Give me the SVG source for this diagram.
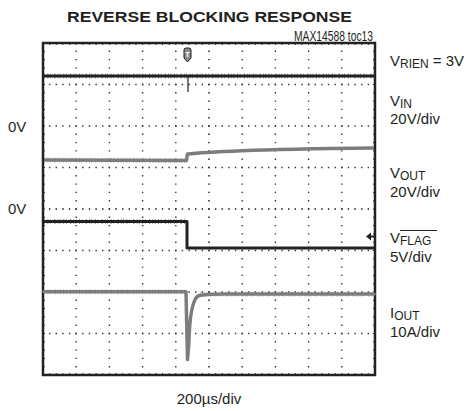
<svg xmlns="http://www.w3.org/2000/svg" width="469" height="411" viewBox="0 0 469 411">
<style>
.lbl{font-family:"Liberation Sans",Arial,sans-serif;font-size:15px;fill:#231f20}
.sub{font-size:12px}
.dh{stroke:#333;stroke-width:1.4;stroke-dasharray:1.4 5.24;stroke-dashoffset:0.7;fill:none}
.dv{stroke:#333;stroke-width:1.4;stroke-dasharray:1.4 6.9;stroke-dashoffset:0.7;fill:none}
.tkh{stroke:#333;stroke-width:1;stroke-dasharray:1 5.64;stroke-dashoffset:0.5;fill:none}
.tkv{stroke:#333;stroke-width:1;stroke-dasharray:1 7.3;stroke-dashoffset:0.5;fill:none}
.dark{fill:none;stroke:#222;stroke-width:3;stroke-linejoin:round}
.gray{fill:none;stroke:#7d7d7d;stroke-width:3.5;stroke-linejoin:round}
.fuzz{fill:none;stroke-width:5;stroke-dasharray:0.8 2.6 1 1.8 0.6 3.4 1.2 2.2 0.7 1.5;opacity:0.55}
</style>
<rect width="469" height="411" fill="#fff"/>
<text class="lbl" x="209.5" y="22" text-anchor="middle" font-weight="bold" font-size="20.5" textLength="285" lengthAdjust="spacingAndGlyphs">REVERSE BLOCKING RESPONSE</text>
<text class="lbl" x="373" y="40.5" text-anchor="end" font-size="10" textLength="79" lengthAdjust="spacingAndGlyphs">MAX14588 toc13</text>
<g id="grid">
<path class="dh" d="M43,84.5H375M43,126H375M43,167.5H375M43,250.5H375M43,292H375M43,333.5H375M43,209H375"/>
<path class="dv" d="M76.2,43V375M109.4,43V375M142.6,43V375M175.8,43V375M242.2,43V375M275.4,43V375M308.6,43V375M341.8,43V375M209,43V375"/>
<path class="tkh" stroke-width="4" d="M43,209H375"/>
<path class="tkv" stroke-width="5" d="M209,43V375"/>
<path class="tkh" stroke-width="3.5" d="M43,44.5H375M43,373.5H375"/>
<path class="tkv" stroke-width="3.5" d="M44.5,43V375M373.5,43V375"/>
<rect x="43" y="43" width="332" height="332" fill="none" stroke="#222" stroke-width="2.5"/>
</g>
<g id="traces">
<g id="vrien">
<path class="dark" d="M44,76H374"/>
<path class="fuzz" stroke="#222" d="M44,76H374"/>
<path d="M188,76V92" stroke="#222" stroke-width="1.2"/>
</g>
<g id="vin">
<path class="gray" d="M44,160L186.5,160.5L187.5,154C200,152.5 220,151.6 242,150.7S330,148.5 374,148"/>
<path class="fuzz" stroke="#7d7d7d" d="M44,160L186.5,160.5"/>
</g>
<g id="vflag">
<path class="dark" d="M44,221.5H187V248H374"/>
<path class="fuzz" stroke="#222" d="M44,221.5H186"/>
</g>
<g id="iout">
<path class="gray" stroke-width="2.8" stroke-linecap="round" d="M44,291.7H186L187.5,359.5L188.8,344C189.5,318 192,300 198,296C203,294.2 212,294 225,294H374"/>
<path class="fuzz" stroke="#7d7d7d" d="M44,291.7H185M200,294.2H374"/>
</g>
<path id="gnd" d="M366,236.5L371,232.5V235.5H375V237.5H371V240.5Z" fill="#222"/>
<g id="trig">
<path d="M184,50Q184,48 186,48H189Q191,48 191,50V58L187.5,62L184,58Z" fill="#8a8a8a" stroke="#222" stroke-width="1"/>
<text x="187.5" y="56.5" text-anchor="middle" font-family="Liberation Sans,Arial,sans-serif" font-weight="bold" font-size="8" fill="#fff">T</text>
</g>
</g>
<g id="labels">
<text class="lbl" x="8" y="132">0V</text>
<text class="lbl" x="8" y="214">0V</text>
<text class="lbl" x="390" y="66">V<tspan class="sub" dy="2">RIEN</tspan><tspan dy="-2"> = 3V</tspan></text>
<text class="lbl" x="390" y="106">V<tspan class="sub" dy="2">IN</tspan></text>
<text class="lbl" x="390" y="124">20V/div</text>
<text class="lbl" x="390" y="178">V<tspan class="sub" dy="2">OUT</tspan></text>
<text class="lbl" x="390" y="197">20V/div</text>
<text class="lbl" x="390" y="243">V<tspan class="sub" dy="2">FLAG</tspan></text>
<path d="M400,230.5H437" stroke="#231f20" stroke-width="1"/>
<text class="lbl" x="390" y="262">5V/div</text>
<text class="lbl" x="390" y="318">I<tspan class="sub" dy="2">OUT</tspan></text>
<text class="lbl" x="390" y="337">10A/div</text>
<text class="lbl" x="209" y="404" text-anchor="middle">200µs/div</text>
</g>
</svg>
